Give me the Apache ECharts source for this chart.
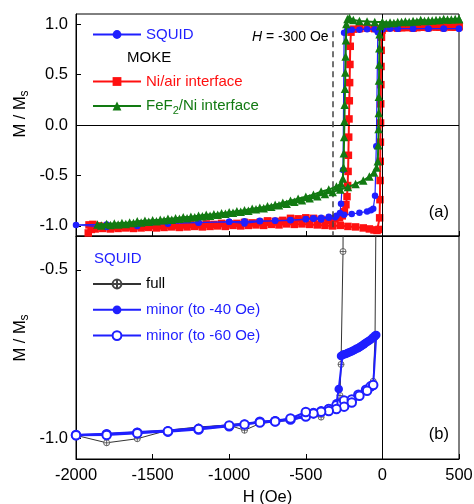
<!DOCTYPE html>
<html><head><meta charset="utf-8">
<script src="https://cdn.jsdelivr.net/npm/echarts@6/dist/echarts.min.js"></script>
<style>html,body{margin:0;padding:0;background:#fff}#c{width:474px;height:504px}</style>
</head><body><div id="c"></div>
<script>
// ---------- data ----------
const xTicks = [-2000, -1500, -1000, -500, 0, 500];
const yTicksTop = [-1.0, -0.5, 0.0, 0.5, 1.0];
const yTicksBottom = [-1.0, -0.5];

// SQUID full loop [H (Oe), M/Ms] : descending then ascending branch
const squidFull = [
  [500,0.955],[400,0.955],[300,0.955],[200,0.955],[100,0.955],[50,0.955],[0,0.95],[-50,0.95],[-100,0.95],[-150,0.945],[-200,0.945],[-230,0.94],[-250,0.915],
  [-257,-0.446],[-270,-0.78],[-277,-0.872],[-309,-0.914],[-350,-0.92],[-400,-0.936],[-450,-0.93],[-500,-0.935],[-600,-0.945],[-700,-0.95],[-800,-0.955],
  [-900,-0.975],[-1000,-0.96],[-1200,-0.965],[-1400,-0.975],[-1600,-1.0],[-1800,-1.012],[-2000,-0.99],
  [-1800,-0.985],[-1600,-0.98],[-1400,-0.975],[-1200,-0.968],[-1000,-0.958],[-900,-0.955],[-800,-0.95],[-700,-0.947],[-600,-0.942],[-500,-0.932],
  [-450,-0.924],[-400,-0.918],[-350,-0.91],[-300,-0.9],[-250,-0.89],[-200,-0.882],[-150,-0.87],[-100,-0.856],[-75,-0.846],[-60,-0.83],[-48,-0.70],
  [-40,-0.21],[-30,0.92],[0,0.95],[100,0.955],[200,0.955],[300,0.955],[400,0.955],[500,0.955]
];

// MOKE Ni/air interface
const niAirDown = [
  [500,0.975],[450,0.97],[400,0.965],[350,0.97],[300,0.965],[250,0.97],[200,0.96],[150,0.965],[100,0.96],[50,0.965],[0,0.96],[-50,0.955],[-100,0.96],[-150,0.955],[-190,0.95],
  [-205,0.92],[-210,0.78],[-212,0.6],[-214,0.42],[-216,0.24],[-218,0.06],[-220,-0.12],[-222,-0.3],[-224,-0.46],[-227,-0.6],[-231,-0.71],[-238,-0.79],[-248,-0.86],[-262,-0.9],
  [-280,-0.92],[-310,-0.93],[-350,-0.945],[-400,-0.935],[-450,-0.925],[-500,-0.92],[-550,-0.93],[-600,-0.925],[-650,-0.945],[-700,-0.955],[-750,-0.95],[-800,-0.965],
  [-850,-0.97],[-900,-0.965],[-950,-0.975],[-1000,-0.98],[-1050,-0.975],[-1100,-0.985],[-1150,-0.98],[-1200,-0.99],[-1250,-0.985],[-1300,-0.99],[-1350,-0.995],
  [-1400,-0.99],[-1450,-1.0],[-1500,-0.995],[-1550,-1.005],[-1600,-1.0],[-1650,-1.01],[-1700,-1.005],[-1750,-1.01],[-1800,-1.005],[-1850,-1.0],[-1890,-0.985],
  [-1915,-0.99],[-1920,-1.07]
];
const niAirUp = [
  [-1900,-1.035],[-1875,-1.03],[-1825,-1.025],[-1775,-1.03],[-1725,-1.025],[-1675,-1.02],[-1625,-1.025],[-1575,-1.02],[-1525,-1.015],[-1475,-1.02],[-1425,-1.015],
  [-1375,-1.01],[-1325,-1.015],[-1275,-1.01],[-1225,-1.005],[-1175,-1.01],[-1125,-1.005],[-1075,-1.0],[-1025,-1.005],[-975,-0.995],[-925,-1.0],[-875,-0.995],
  [-825,-0.99],[-775,-0.995],[-725,-0.985],[-675,-0.99],[-625,-0.98],[-575,-0.985],[-525,-0.98],[-475,-0.985],[-425,-0.99],[-375,-0.995],[-325,-1.0],[-275,-0.995],
  [-225,-1.005],[-175,-1.01],[-125,-1.02],[-85,-1.03],[-55,-1.04],[-35,-1.045],[-22,-1.035],[-18,-0.92],[-16,-0.74],[-15,-0.55],[-14,-0.36],[-13,-0.17],[-12,0.02],
  [-11,0.21],[-10,0.4],[-9,0.58],[-8,0.74],[-6,0.87],[-2,0.94],[10,0.96],[25,0.965],[75,0.97],[125,0.965],[175,0.97],[225,0.965],[275,0.97],[325,0.975],[375,0.97],
  [425,0.975],[475,0.97],[500,0.975]
];

// MOKE FeF2/Ni interface
const feNiDown = [
  [500,1.05],[450,1.045],[400,1.05],[350,1.04],[300,1.035],[250,1.04],[200,1.03],[150,1.025],[100,1.02],[50,1.015],[0,1.02],[-50,1.02],[-100,1.025],[-150,1.03],
  [-190,1.04],[-215,1.06],[-228,1.05],[-235,1.0],[-238,0.84],[-240,0.68],[-242,0.52],[-244,0.36],[-246,0.2],[-248,0.04],[-250,-0.12],[-252,-0.28],[-254,-0.42],
  [-258,-0.53],[-270,-0.58],[-300,-0.61],[-350,-0.64],[-400,-0.66],[-450,-0.69],[-500,-0.71],[-550,-0.73],[-600,-0.75],[-650,-0.77],[-700,-0.79],[-750,-0.805],
  [-800,-0.82],[-850,-0.83],[-900,-0.845],[-950,-0.855],[-1000,-0.865],[-1050,-0.875],[-1100,-0.885],[-1150,-0.89],[-1200,-0.9],[-1250,-0.91],[-1300,-0.915],
  [-1350,-0.925],[-1400,-0.93],[-1450,-0.94],[-1500,-0.945],[-1550,-0.95],[-1600,-0.955],[-1650,-0.965],[-1700,-0.97],[-1750,-0.975],[-1800,-0.98],[-1860,-0.985]
];
const feNiUp = [
  [-1835,-0.995],[-1775,-0.99],[-1725,-0.985],[-1675,-0.98],[-1625,-0.97],[-1575,-0.965],[-1525,-0.96],[-1475,-0.955],[-1425,-0.945],[-1375,-0.94],[-1325,-0.93],
  [-1275,-0.925],[-1225,-0.915],[-1175,-0.905],[-1125,-0.9],[-1075,-0.89],[-1025,-0.88],[-975,-0.87],[-925,-0.86],[-875,-0.85],[-825,-0.835],[-775,-0.825],
  [-725,-0.81],[-675,-0.795],[-625,-0.78],[-575,-0.76],[-525,-0.745],[-475,-0.725],[-425,-0.705],[-375,-0.685],[-325,-0.665],[-275,-0.64],[-225,-0.615],
  [-175,-0.585],[-125,-0.55],[-85,-0.51],[-55,-0.47],[-38,-0.42],[-30,-0.36],[-27,-0.2],[-25,-0.04],[-24,0.12],[-23,0.28],[-22,0.44],[-21,0.6],[-20,0.76],
  [-18,0.9],[-14,0.98],[-5,1.0],[25,1.005],[75,1.01],[125,1.02],[175,1.02],[225,1.025],[275,1.03],[325,1.035],[375,1.04],[425,1.045],[475,1.05],[500,1.05]
];

// SQUID minor loop to -40 Oe
const minor40 = [
  [-2000,-0.989],[-1800,-0.985],[-1600,-0.98],[-1400,-0.976],[-1200,-0.968],[-1000,-0.96],[-900,-0.956],[-800,-0.95],[-700,-0.946],[-600,-0.941],[-500,-0.932],
  [-450,-0.925],[-400,-0.92],[-350,-0.912],[-300,-0.902],[-250,-0.892],[-200,-0.884],[-150,-0.872],[-100,-0.857],[-75,-0.848],[-60,-0.842],[-40,-0.693],
  [-45,-0.694],[-50,-0.697],[-60,-0.70],[-70,-0.704],[-80,-0.708],[-90,-0.711],[-100,-0.714],[-110,-0.717],[-120,-0.72],[-130,-0.723],[-140,-0.726],[-150,-0.729],
  [-160,-0.732],[-170,-0.734],[-180,-0.737],[-190,-0.739],[-200,-0.741],[-210,-0.743],[-220,-0.745],[-230,-0.747],[-240,-0.749],[-250,-0.75],[-260,-0.752],
  [-270,-0.755],[-285,-0.853],[-300,-0.895],[-350,-0.91],[-400,-0.92],[-500,-0.935],[-600,-0.944],[-700,-0.948],[-800,-0.952],[-1000,-0.962],[-1200,-0.97],
  [-1400,-0.978],[-1600,-0.982],[-1800,-0.987],[-2000,-0.99]
];
// SQUID minor loop to -60 Oe
const minor60 = [
  [-2000,-0.989],[-1800,-0.987],[-1600,-0.982],[-1400,-0.979],[-1200,-0.973],[-1000,-0.963],[-900,-0.958],[-800,-0.95],[-700,-0.948],[-600,-0.943],[-500,-0.934],
  [-450,-0.924],[-400,-0.919],[-350,-0.912],[-300,-0.901],[-266,-0.894],[-250,-0.887],[-200,-0.884],[-157,-0.87],[-107,-0.855],[-77,-0.845],[-60,-0.841],
  [-100,-0.858],[-150,-0.873],[-200,-0.893],[-250,-0.905],[-300,-0.912],[-350,-0.918],[-400,-0.92],[-450,-0.925],[-500,-0.921],[-600,-0.94],[-700,-0.949],
  [-800,-0.952],[-1000,-0.961],[-1200,-0.971],[-1400,-0.978],[-1600,-0.984],[-1800,-0.989],[-2000,-0.99]
];

// ---------- chart ----------
const FONT = 'Liberation Sans, Arial, Helvetica, sans-serif';
const BLUE = '#1f1fff', RED = '#ff1010', GREEN = '#127a12', BLK = '#000';
const chart = echarts.init(document.getElementById('c'));
const fmt = v => Number(v).toFixed(1);
const crossCircle = 'path://M0,5A5,5 0 1,1 10,5A5,5 0 1,1 0,5ZM0,5L10,5M5,0L5,10';

function xAx(gi, showLabel) {
  return {
    type: 'value', gridIndex: gi, min: -2000, max: 500, interval: 500,
    axisLine: {show: true, onZero: false, lineStyle: {color: BLK, width: 1}},
    axisTick: {show: true, inside: true, length: 5, lineStyle: {color: BLK}, customValues: xTicks},
    splitLine: {show: false},
    axisLabel: {show: showLabel, color: BLK, fontSize: 16.5, fontFamily: FONT, margin: 8,
                customValues: xTicks, formatter: v => String(Math.round(v))},
    name: showLabel ? 'H (Oe)' : '', nameLocation: 'middle', nameGap: 30,
    nameTextStyle: {color: BLK, fontSize: 16.5, fontFamily: FONT}
  };
}
function yAx(gi, min, max, ticks) {
  return {
    type: 'value', gridIndex: gi, min: min, max: max,
    axisLine: {show: true, onZero: false, lineStyle: {color: BLK, width: 1}},
    axisTick: {show: true, inside: true, length: 5, lineStyle: {color: BLK}, customValues: ticks},
    splitLine: {show: false},
    axisLabel: {color: BLK, fontSize: 16.5, fontFamily: FONT, margin: 8, customValues: ticks, formatter: fmt}
  };
}

const option = {
  animation: false,
  backgroundColor: '#fff',
  textStyle: {fontFamily: FONT},
  grid: [
    {left: 76, right: 15, top: 14, height: 222, show: true, borderColor: BLK, borderWidth: 1, outerBoundsMode: 'none', containLabel: false},
    {left: 76, right: 15, top: 236, height: 223, show: true, borderColor: BLK, borderWidth: 1, outerBoundsMode: 'none', containLabel: false}
  ],
  xAxis: [xAx(0, false), xAx(1, true)],
  yAxis: [yAx(0, -1.1, 1.1, yTicksTop), yAx(1, -1.06, -0.4, yTicksBottom)],
  legend: [
    {data: ['SQUID'], left: 87, top: 22, itemWidth: 48, itemHeight: 11, lineStyle: {width: 2},
     textStyle: {color: BLUE, fontSize: 15, fontFamily: FONT}},
    {data: ['Ni/air interface', 'FeF2/Ni interface'], orient: 'vertical', left: 87, top: 69, itemGap: 9.5,
     itemWidth: 48, itemHeight: 11, lineStyle: {width: 2},
     formatter: n => n === 'FeF2/Ni interface' ? '{g|FeF}{s|2}{g|/Ni interface}' : '{r|' + n + '}',
     textStyle: {fontSize: 15, fontFamily: FONT,
       rich: {r: {color: RED, fontSize: 15, fontFamily: FONT}, g: {color: GREEN, fontSize: 15, fontFamily: FONT},
              s: {color: GREEN, fontSize: 11, fontFamily: FONT, padding: [9, 0, 0, 0]}}}},
    {data: ['full', 'minor (to -40 Oe)', 'minor (to -60 Oe)'], orient: 'vertical', left: 87, top: 271.5, itemGap: 10.8,
     itemWidth: 48, itemHeight: 11, lineStyle: {width: 2},
     formatter: n => n === 'full' ? '{k|full}' : '{b|' + n + '}',
     textStyle: {fontSize: 15, fontFamily: FONT, rich: {k: {color: BLK, fontSize: 15, fontFamily: FONT}, b: {color: BLUE, fontSize: 15, fontFamily: FONT}}}}
  ],
  graphic: [
    {type: 'text', x: 20, y: 114, rotation: Math.PI / 2,
     style: {text: '{m|M / M}{s|s}', textAlign: 'center', textVerticalAlign: 'middle',
       rich: {m: {fontSize: 16.5, fontFamily: FONT, fill: BLK}, s: {fontSize: 12, fontFamily: FONT, fill: BLK, padding: [9, 0, 0, 0]}}}},
    {type: 'text', x: 20, y: 338, rotation: Math.PI / 2,
     style: {text: '{m|M / M}{s|s}', textAlign: 'center', textVerticalAlign: 'middle',
       rich: {m: {fontSize: 16.5, fontFamily: FONT, fill: BLK}, s: {fontSize: 12, fontFamily: FONT, fill: BLK, padding: [9, 0, 0, 0]}}}},
    {type: 'text', x: 127, y: 58, style: {text: 'MOKE', fill: BLK, fontSize: 15, fontFamily: FONT, textVerticalAlign: 'middle'}},
    {type: 'text', x: 94, y: 259, style: {text: 'SQUID', fill: BLUE, fontSize: 15, fontFamily: FONT, textVerticalAlign: 'middle'}},
    {type: 'text', x: 252, y: 37, style: {text: '{i|H} = -300 Oe', textVerticalAlign: 'middle',
       rich: {i: {fontStyle: 'italic', fontSize: 14, fontFamily: FONT, fill: BLK}}, fontSize: 14, fontFamily: FONT, fill: BLK}},
    {type: 'text', x: 449, y: 212, style: {text: '(a)', fill: BLK, fontSize: 16.5, fontFamily: FONT, textAlign: 'right', textVerticalAlign: 'middle'}},
    {type: 'text', x: 449, y: 434, style: {text: '(b)', fill: BLK, fontSize: 16.5, fontFamily: FONT, textAlign: 'right', textVerticalAlign: 'middle'}}
  ],
  series: [
    {name: 'Ni/air interface', type: 'line', xAxisIndex: 0, yAxisIndex: 0, data: niAirDown.concat(niAirUp),
     symbol: 'rect', symbolSize: 7.5, itemStyle: {color: RED}, lineStyle: {color: RED, width: 2}, z: 3,
     markLine: {silent: true, symbol: 'none', label: {show: false}, animation: false,
       lineStyle: {color: BLK, width: 1, type: 'solid'},
       data: [{yAxis: 0}, {xAxis: 0}]}},
    {name: 'SQUID', type: 'line', xAxisIndex: 0, yAxisIndex: 0, data: squidFull,
     symbol: 'circle', symbolSize: 6.5, itemStyle: {color: BLUE}, lineStyle: {color: BLUE, width: 1.2}, z: 4},
    {name: 'FeF2/Ni interface', type: 'line', xAxisIndex: 0, yAxisIndex: 0, data: feNiDown.concat(feNiUp),
     symbol: 'triangle', symbolSize: 8.5, itemStyle: {color: GREEN}, lineStyle: {color: GREEN, width: 2}, z: 5,
     markLine: {silent: true, symbol: 'none', label: {show: false}, animation: false,
       lineStyle: {color: '#444', width: 1.5, type: [6, 4]},
       data: [[{coord: [-325, 0.93]}, {coord: [-325, -1.1]}]]}},
    {name: 'full', type: 'line', xAxisIndex: 1, yAxisIndex: 1, data: squidFull,
     symbol: crossCircle, symbolSize: 6, itemStyle: {color: '#fff', borderColor: '#444', borderWidth: 0.8},
     lineStyle: {color: '#333', width: 1}, z: 3,
     markLine: {silent: true, symbol: 'none', label: {show: false}, animation: false,
       lineStyle: {color: BLK, width: 1, type: 'solid'}, data: [{xAxis: 0}]}},
    {name: 'minor (to -40 Oe)', type: 'line', xAxisIndex: 1, yAxisIndex: 1, data: minor40,
     symbol: 'circle', symbolSize: 8.5, itemStyle: {color: BLUE}, lineStyle: {color: BLUE, width: 2}, z: 4},
    {name: 'minor (to -60 Oe)', type: 'line', xAxisIndex: 1, yAxisIndex: 1, data: minor60,
     symbol: 'emptyCircle', symbolSize: 8.5, itemStyle: {color: BLUE, borderColor: BLUE, borderWidth: 1.5},
     lineStyle: {color: BLUE, width: 2}, z: 5}
  ]
};
chart.setOption(option);
</script></body></html>
